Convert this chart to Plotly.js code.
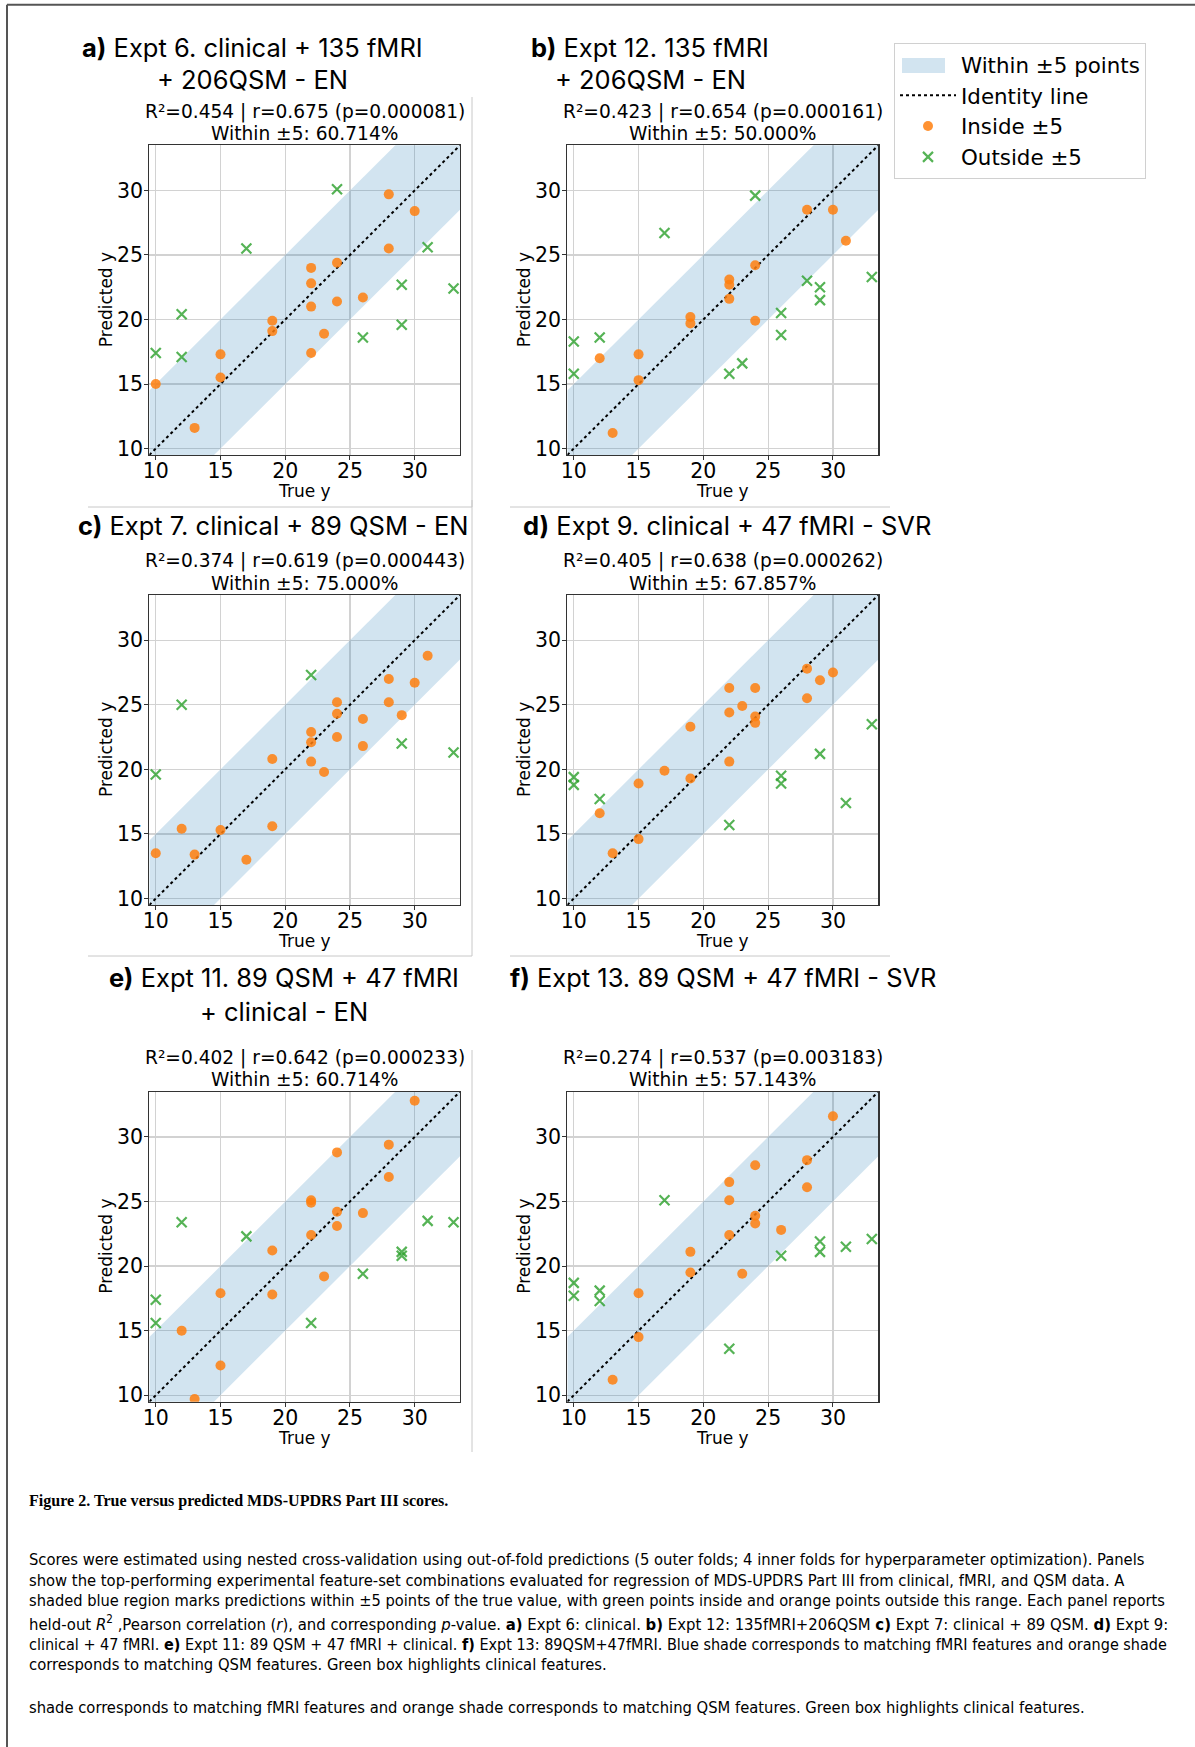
<!DOCTYPE html>
<html><head><meta charset="utf-8">
<script src="https://cdn.plot.ly/plotly-3.0.1.min.js"></script>
<style>html,body{margin:0;padding:0;background:#fff}#chart{width:1195px;height:1747px}</style>
</head><body><div id="chart"></div>
<script>
// ---------- data (true y / predicted y) ----------
const aInTrue  = [10,13,15,15,19,19,22,22,22,22,23,24,24,26,28,28,30];
const aInPred  = [15.0,11.6,17.3,15.5,19.9,19.1,24.0,22.8,21.0,17.4,18.9,24.4,21.4,21.7,29.7,25.5,28.4];
const aOutTrue = [10,12,12,17,24,26,29,29,31,33];
const aOutPred = [17.4,20.4,17.1,25.5,30.1,18.6,22.7,19.6,25.6,22.4];

const bInTrue  = [12,13,15,15,19,19,22,22,22,24,24,28,30,31];
const bInPred  = [17.0,11.2,17.3,15.3,20.2,19.7,23.1,22.7,21.6,24.2,19.9,28.5,28.5,26.1];
const bOutTrue = [10,10,12,17,22,23,24,26,26,28,29,29,33];
const bOutPred = [18.3,15.8,18.6,26.7,15.8,16.6,29.6,20.5,18.8,23.0,22.5,21.5,23.3];

const cInTrue  = [10,12,13,15,17,19,19,22,22,22,23,24,24,24,26,26,28,28,29,30,31];
const cInPred  = [13.5,15.4,13.4,15.3,13.0,20.8,15.6,22.9,22.1,20.6,19.8,25.2,24.3,22.5,23.9,21.8,27.0,25.2,24.2,26.7,28.8];
const cOutTrue = [10,12,22,29,33];
const cOutPred = [19.6,25.0,27.3,22.0,21.3];

const dInTrue  = [12,13,15,15,17,19,19,22,22,22,23,24,24,24,28,28,29,30];
const dInPred  = [16.6,13.5,18.9,14.6,19.9,23.3,19.3,26.3,24.4,20.6,24.9,26.3,24.1,23.6,27.8,25.5,26.9,27.5];
const dOutTrue = [10,10,12,22,26,26,29,31,33];
const dOutPred = [19.4,18.8,17.7,15.7,19.5,18.9,21.2,17.4,23.5];

const eInTrue  = [12,13,15,15,19,19,22,22,22,23,24,24,24,26,28,28,30];
const eInPred  = [15.0,9.7,17.9,12.3,21.2,17.8,25.1,24.9,22.4,19.2,28.8,24.2,23.1,24.1,29.4,26.9,32.8];
const eOutTrue = [10,10,12,17,22,26,29,29,31,33];
const eOutPred = [17.4,15.6,23.4,22.3,15.6,19.4,21.1,20.8,23.5,23.4];

const fInTrue  = [13,15,15,19,19,22,22,22,23,24,24,24,26,28,28,30];
const fInPred  = [11.2,17.9,14.5,21.1,19.5,26.5,25.1,22.4,19.4,27.8,23.9,23.3,22.8,28.2,26.1,31.6];
const fOutTrue = [10,10,12,12,17,22,26,29,29,31,33];
const fOutPred = [18.7,17.7,18.1,17.3,25.1,13.6,20.8,21.9,21.1,21.5,22.1];

const panelTitles = [
  ["<b>a)</b> Expt 6. clinical + 135 fMRI", "+ 206QSM - EN"],
  ["<b>b)</b> Expt 12. 135 fMRI", "+ 206QSM - EN"],
  ["<b>c)</b> Expt 7. clinical + 89 QSM - EN"],
  ["<b>d)</b> Expt 9. clinical + 47 fMRI - SVR"],
  ["<b>e)</b> Expt 11. 89 QSM + 47 fMRI", "+ clinical - EN"],
  ["<b>f)</b> Expt 13. 89 QSM + 47 fMRI - SVR"]
];
const statLines = [
  ["R²=0.454 | r=0.675 (p=0.000081)", "Within ±5: 60.714%"],
  ["R²=0.423 | r=0.654 (p=0.000161)", "Within ±5: 50.000%"],
  ["R²=0.374 | r=0.619 (p=0.000443)", "Within ±5: 75.000%"],
  ["R²=0.405 | r=0.638 (p=0.000262)", "Within ±5: 67.857%"],
  ["R²=0.402 | r=0.642 (p=0.000233)", "Within ±5: 60.714%"],
  ["R²=0.274 | r=0.537 (p=0.003183)", "Within ±5: 57.143%"]
];
const tickVals = [10,15,20,25,30];
const axisLims = [9.5, 33.5];
const bandHalf = 5;
const legendNames = ["Within ±5 points","Identity line","Inside ±5","Outside ±5"];
const xLabel = "True y", yLabel = "Predicted y";
const captionTitle = "Figure 2. True versus predicted MDS-UPDRS Part III scores.";
const captionLines = [
  "Scores were estimated using nested cross-validation using out-of-fold predictions (5 outer folds; 4 inner folds for hyperparameter optimization). Panels",
  "show the top-performing experimental feature-set combinations evaluated for regression of MDS-UPDRS Part III from clinical, fMRI, and QSM data. A",
  "shaded blue region marks predictions within ±5 points of the true value, with green points inside and orange points outside this range. Each panel reports",
  "held-out <i>R</i><sup>2</sup> ,Pearson correlation (<i>r</i>), and corresponding <i>p</i>-value. <b>a)</b> Expt 6: clinical. <b>b)</b> Expt 12: 135fMRI+206QSM <b>c)</b> Expt 7: clinical + 89 QSM. <b>d)</b> Expt 9:",
  "clinical + 47 fMRI. <b>e)</b> Expt 11: 89 QSM + 47 fMRI + clinical. <b>f)</b> Expt 13: 89QSM+47fMRI. Blue shade corresponds to matching fMRI features and orange shade",
  "corresponds to matching QSM features. Green box highlights clinical features."
];
const captionTail = "shade corresponds to matching fMRI features and orange shade corresponds to matching QSM features. Green box highlights clinical features.";

// ---------- layout geometry (pixels) ----------
const W = 1195, H = 1747;
const px = x => x / W, py = y => 1 - y / H;
const plotBoxes = [ // [left, top, right, bottom]
  [149.3, 145.3, 460, 455],
  [567.3, 145.3, 878.3, 455],
  [149.3, 595, 460, 905],
  [567.3, 595, 878.3, 905],
  [149.3, 1091.7, 460, 1401.7],
  [567.3, 1091.7, 878.3, 1401.7]
];
const titleCenters = [[252.6, 47, 80],[650, 47, 80],[273, 525],[727, 525],[284, 978, 1011.7],[723.7, 978]];

const inSets = [[aInTrue,aInPred],[bInTrue,bInPred],[cInTrue,cInPred],[dInTrue,dInPred],[eInTrue,eInPred],[fInTrue,fInPred]];
const outSets = [[aOutTrue,aOutPred],[bOutTrue,bOutPred],[cOutTrue,cOutPred],[dOutTrue,dOutPred],[eOutTrue,eOutPred],[fOutTrue,fOutPred]];

const ORANGE = 'rgba(255,127,14,0.85)';
const GREEN = 'rgba(44,160,44,0.8)';
const BAND = 'rgba(31,119,180,0.2)';

const mctx = document.createElement('canvas').getContext('2d');
function fitSize(text, family, weight, target, base) {
  mctx.font = weight + ' ' + base + 'px ' + family;
  const w = mctx.measureText(text.replace(/<[^>]+>/g, '')).width;
  return w > 0 ? base * target / w : base;
}

const traces = [];
const layout = {
  width: W, height: H, margin: {l:0, r:0, t:0, b:0},
  paper_bgcolor: '#fff', plot_bgcolor: '#fff',
  showlegend: true,
  legend: {x: px(894), y: py(43), xanchor: 'left', yanchor: 'top',
           bordercolor: '#d0d0d0', borderwidth: 1, bgcolor: 'rgba(255,255,255,0)', itemwidth: 56,
           font: {family: 'DejaVu Sans', size: 21.4, color: '#000'}, tracegroupgap: 0},
  annotations: [], shapes: []
};
const fontDV = (s) => ({family: 'DejaVu Sans', size: s, color: '#000'});

// legend entry for the band (its patch is drawn as a shape below)
traces.push({type: 'scatter', x: [null], y: [null], mode: 'lines', line: {width: 0, color: BAND},
  name: legendNames[0], legendgroup: 'band', showlegend: true, hoverinfo: 'skip'});

plotBoxes.forEach((b, i) => {
  const n = i === 0 ? '' : String(i + 1);
  const xa = 'x' + n, ya = 'y' + n;
  const lo = axisLims[0], hi = axisLims[1];
  const first = i === 0;
  traces.push({type: 'scatter', x: [lo, hi, hi, lo], y: [lo - bandHalf, hi - bandHalf, hi + bandHalf, lo + bandHalf],
    fill: 'toself', fillcolor: BAND, mode: 'lines', line: {width: 0, color: BAND},
    name: legendNames[0], legendgroup: 'band', showlegend: false, xaxis: xa, yaxis: ya, hoverinfo: 'skip'});
  traces.push({type: 'scatter', x: axisLims, y: axisLims, mode: 'lines',
    line: {color: '#000', dash: 'dot', width: 2},
    name: legendNames[1], legendgroup: 'id', showlegend: first, xaxis: xa, yaxis: ya});
  traces.push({type: 'scatter', x: inSets[i][0], y: inSets[i][1], mode: 'markers',
    marker: {color: ORANGE, size: 10, line: {width: 0}},
    name: legendNames[2], legendgroup: 'in', showlegend: first, xaxis: xa, yaxis: ya});
  traces.push({type: 'scatter', x: outSets[i][0], y: outSets[i][1], mode: 'markers',
    marker: {color: GREEN, size: 10, symbol: 'x-thin', line: {width: 2.2, color: GREEN}},
    name: legendNames[3], legendgroup: 'out', showlegend: first, xaxis: xa, yaxis: ya});

  const common = {range: axisLims, tickvals: tickVals, showgrid: true, gridcolor: '#d2d2d2', gridwidth: 1.2,
    showline: true, mirror: true, linecolor: '#333', linewidth: 1.2, ticks: 'outside', ticklen: 4,
    tickcolor: '#333', tickfont: fontDV(20.5), zeroline: false, fixedrange: true};
  layout['xaxis' + n] = Object.assign({}, common, {domain: [px(b[0]), px(b[2])], anchor: ya, ticklabelstandoff: -7});
  layout['yaxis' + n] = Object.assign({}, common, {domain: [py(b[3]), py(b[1])], anchor: xa, ticklabelstandoff: -3});

  const cx = (b[0] + b[2]) / 2, cy = (b[1] + b[3]) / 2;
  layout.annotations.push({xref: 'paper', yref: 'paper', x: px(cx), y: py(b[1] - 33.6), text: statLines[i][0],
    showarrow: false, xanchor: 'center', yanchor: 'middle', font: fontDV(18.6)});
  layout.annotations.push({xref: 'paper', yref: 'paper', x: px(cx), y: py(b[1] - 12), text: statLines[i][1],
    showarrow: false, xanchor: 'center', yanchor: 'middle', font: fontDV(18.6)});
  layout.annotations.push({xref: 'paper', yref: 'paper', x: px(cx), y: py(b[3] + 36), text: xLabel,
    showarrow: false, xanchor: 'center', yanchor: 'middle', font: fontDV(17)});
  layout.annotations.push({xref: 'paper', yref: 'paper', x: px(b[0] - 43.3), y: py(cy), text: yLabel, textangle: -90,
    showarrow: false, xanchor: 'center', yanchor: 'middle', font: fontDV(17)});
  const tc = titleCenters[i];
  panelTitles[i].forEach((t, k) => {
    layout.annotations.push({xref: 'paper', yref: 'paper', x: px(tc[0]), y: py(tc[1 + k]), text: t,
      showarrow: false, xanchor: 'center', yanchor: 'middle', font: {family: 'Inter', size: 25.5, color: '#000'}});
  });
});

// caption
const CAP_FAM = '"DejaVu Sans Condensed", "Liberation Sans Narrow", "Liberation Sans"';
const SERIF = '"Liberation Serif"';
layout.annotations.push({xref: 'paper', yref: 'paper', x: px(26.7), y: py(1501), text: '<b>' + captionTitle + '</b>',
  showarrow: false, xanchor: 'left', yanchor: 'middle',
  font: {family: 'Liberation Serif', size: fitSize(captionTitle, SERIF, 'bold', 420, 15), color: '#000'}});
const capY = [1559, 1580, 1600.5, 1622.5, 1644, 1664.5];
const capW = [1117, 1096, 1137, 1135, 1135, 578];
captionLines.forEach((t, k) => {
  layout.annotations.push({xref: 'paper', yref: 'paper', x: px(26.7), y: py(capY[k]), text: t,
    showarrow: false, xanchor: 'left', yanchor: 'middle',
    font: {family: CAP_FAM, size: fitSize(t, CAP_FAM, 'normal', capW[k], 15), color: '#000'}});
});
layout.annotations.push({xref: 'paper', yref: 'paper', x: px(26.7), y: py(1707), text: captionTail,
  showarrow: false, xanchor: 'left', yanchor: 'middle',
  font: {family: CAP_FAM, size: fitSize(captionTail, CAP_FAM, 'normal', 1056, 15), color: '#000'}});

// page frame, panel separators, legend background and band patch
const line = (x0, y0, x1, y1, c, w) => ({type: 'line', xref: 'paper', yref: 'paper',
  x0: px(x0), y0: py(y0), x1: px(x1), y1: py(y1), line: {color: c, width: w}});
layout.shapes.push(line(7, 4.7, 1195, 4.7, '#555', 2));
layout.shapes.push(line(7, 4.7, 7, 1747, '#555', 2));
const SEP = '#c8c8c8';
layout.shapes.push(line(472, 97, 472, 507, SEP, 1));
layout.shapes.push(line(88, 507, 472, 507, SEP, 1));
layout.shapes.push(line(510, 507, 890, 507, SEP, 1));
layout.shapes.push(line(472, 500, 472, 956, SEP, 1));
layout.shapes.push(line(88, 956, 472, 956, SEP, 1));
layout.shapes.push(line(510, 956, 890, 956, SEP, 1));
layout.shapes.push(line(472, 1050, 472, 1452, SEP, 1));
layout.shapes.push({type: 'rect', xref: 'paper', yref: 'paper', layer: 'above',
  x0: px(902), x1: px(945), y0: py(73), y1: py(58), fillcolor: BAND, line: {width: 0}});

Plotly.newPlot('chart', traces, layout, {staticPlot: true, displayModeBar: false});
</script></body></html>
